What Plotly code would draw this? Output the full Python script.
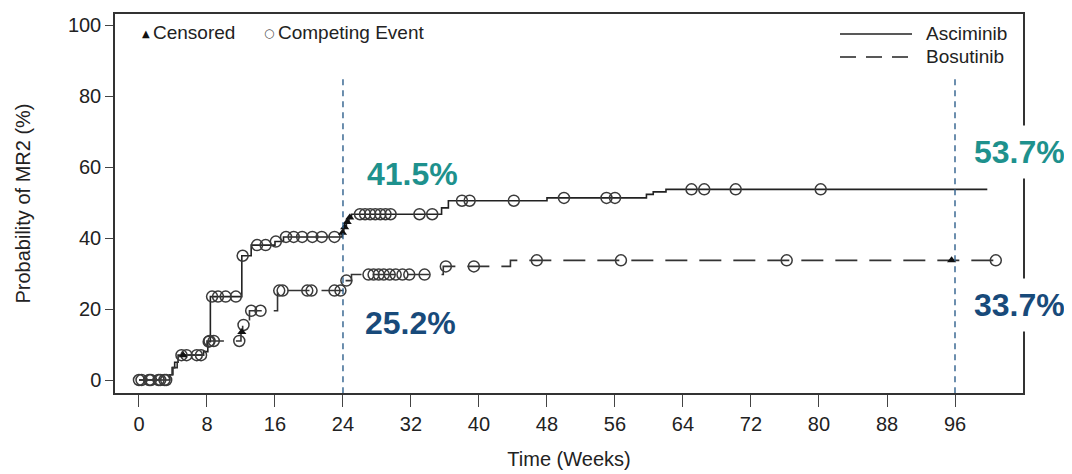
import numpy as np
import plotly.graph_objects as go

# ---------------- data ----------------
asc_t = [0, 3.6, 3.9, 4.2, 4.6, 7.6, 8.1, 8.4, 12.1, 13.2, 16.0, 17.0, 23.9, 24.1, 24.4, 24.7, 25.0, 35.6, 36.4, 48.0, 59.7, 60.5, 62.0, 99.8]
asc_p = [0, 1.5, 3.5, 5.0, 7.0, 8.0, 10.8, 23.5, 35.0, 38.0, 39.0, 40.3, 41.5, 43.0, 44.5, 45.8, 46.7, 48.5, 50.5, 51.3, 52.3, 53.0, 53.7, 53.7]
asc_ce_t = [0.0, 1.2, 2.3, 3.0, 5.0, 6.8, 7.3, 8.2, 8.6, 9.3, 10.2, 11.4, 12.2, 13.9, 14.9, 16.1, 17.3, 18.2,
            19.2, 20.4, 21.5, 23.0, 26.0, 26.6, 27.2, 27.8, 28.4, 29.0, 29.6, 33.0, 34.5, 38.0, 38.9, 44.1,
            50.0, 55.0, 56.0, 65.0, 66.5, 70.2, 80.2]
asc_cens_t = [5.2, 23.95, 24.2, 24.5, 24.8]

bos_t = [0, 3.6, 4.0, 4.5, 5.2, 8.0, 12.0, 12.2, 13.0, 16.3, 24.2, 25.0, 35.8, 43.7, 100.8]
bos_p = [0, 1.5, 3.5, 5.5, 7.0, 11.0, 13.5, 15.5, 19.5, 25.2, 28.0, 29.7, 32.0, 33.7, 33.7]
bos_ce_t = [0.3, 1.4, 2.5, 3.2, 5.6, 8.3, 8.8, 11.8, 12.3, 13.2, 14.3, 16.5, 16.9, 19.8, 20.3, 23.0, 23.7,
            24.4, 27.0, 27.6, 28.2, 28.8, 29.5, 30.2, 31.0, 31.8, 33.6, 36.1, 39.4, 46.8, 56.7, 76.2, 100.8]
bos_cens_t = [12.1, 95.6]

x_ticks = [0, 8, 16, 24, 32, 40, 48, 56, 64, 72, 80, 88, 96]
y_ticks = [0, 20, 40, 60, 80, 100]
landmarks = [24, 96]
labels_asc = ["41.5%", "53.7%"]
labels_bos = ["25.2%", "33.7%"]

# ---------------- helpers ----------------
def step_at(ts, ps, q):
    ts = np.asarray(ts); ps = np.asarray(ps)
    idx = np.searchsorted(ts, np.asarray(q), side="right") - 1
    idx = np.clip(idx, 0, len(ps) - 1)
    return ps[idx]

FONT = "Liberation Sans Narrow, Arial Narrow, Liberation Sans, Arial, sans-serif"
BOLD = "Liberation Sans, Arial, sans-serif"
TEAL = "#1e918d"
NAVY = "#184a7a"
VBLUE = "#2e5f8c"

# page body has an 8px default margin -> figure origin is at (8, 8)
OFF = 8
FIG_W, FIG_H = 1072 - OFF, 474 - OFF
ML, MR, MT, MB = 115 - OFF, 49, 14 - OFF, 81

fig = go.Figure()

# curves
fig.add_trace(go.Scatter(x=asc_t, y=asc_p, mode="lines", line=dict(color="#222", width=1.6, shape="hv"),
                         showlegend=False, hoverinfo="skip"))
fig.add_trace(go.Scatter(x=bos_t, y=bos_p, mode="lines",
                         line=dict(color="#333", width=1.6, shape="hv", dash="22px,12px"),
                         showlegend=False, hoverinfo="skip"))

# competing event markers
for ts, ps, ce in [(asc_t, asc_p, asc_ce_t), (bos_t, bos_p, bos_ce_t)]:
    fig.add_trace(go.Scatter(x=ce, y=step_at(ts, ps, ce), mode="markers",
                             marker=dict(symbol="circle-open", size=11, color="#3a3a3a", line=dict(width=1.5)),
                             showlegend=False, hoverinfo="skip"))
# censored markers
for ts, ps, cz in [(asc_t, asc_p, asc_cens_t), (bos_t, bos_p, bos_cens_t)]:
    fig.add_trace(go.Scatter(x=cz, y=step_at(ts, ps, cz), mode="markers",
                             marker=dict(symbol="triangle-up", size=8, color="#111"),
                             showlegend=False, hoverinfo="skip"))

# landmark vertical dashed lines
for lm in landmarks:
    fig.add_shape(type="line", xref="x", yref="y", x0=lm, x1=lm, y0=-3.7, y1=85.5,
                  line=dict(color=VBLUE, width=1.4, dash="6px,5px"), layer="above")

# percentage labels
fig.add_annotation(x=landmarks[0] + 8.2, y=58, xref="x", yref="y", text=f"<b>{labels_asc[0]}</b>",
                   showarrow=False, font=dict(family=BOLD, size=32, color=TEAL))
fig.add_annotation(x=landmarks[0] + 7.9, y=16, xref="x", yref="y", text=f"<b>{labels_bos[0]}</b>",
                   showarrow=False, font=dict(family=BOLD, size=32, color=NAVY))
fig.add_annotation(x=landmarks[1] + 7.6, y=64.2, xref="x", yref="y", text=f"<b>{labels_asc[1]}</b>",
                   showarrow=False, bgcolor="white", borderpad=8,
                   font=dict(family=BOLD, size=32, color=TEAL))
fig.add_annotation(x=landmarks[1] + 7.6, y=21.1, xref="x", yref="y", text=f"<b>{labels_bos[1]}</b>",
                   showarrow=False, bgcolor="white", borderpad=8,
                   font=dict(family=BOLD, size=32, color=NAVY))

fig.update_layout(
    template="none",
    width=FIG_W, height=FIG_H,
    margin=dict(l=ML, r=MR, t=MT, b=MB, autoexpand=False),
    paper_bgcolor="white", plot_bgcolor="white",
    font=dict(family=FONT, size=20, color="#222"),
    xaxis=dict(range=[-2.82, 104.0], tickmode="array", tickvals=x_ticks, ticktext=[str(v) for v in x_ticks],
               showline=True, linecolor="#333", linewidth=1.5, mirror=True, automargin=False,
               ticks="outside", ticklen=12, tickcolor="#444", tickwidth=1.3,
               showgrid=False, zeroline=False,
               title=dict(text="Time (Weeks)", font=dict(family=FONT, size=20), standoff=18),
               tickfont=dict(family=FONT, size=20)),
    yaxis=dict(range=[-3.66, 103.1], tickmode="array", tickvals=y_ticks, ticktext=[str(v) for v in y_ticks],
               showline=True, linecolor="#333", linewidth=1.5, mirror=True, automargin=False,
               ticks="outside", ticklen=8, tickcolor="#444", tickwidth=1.3,
               showgrid=False, zeroline=False,
               title=dict(text="Probability of MR2 (%)", font=dict(family=FONT, size=20), standoff=32),
               tickfont=dict(family=FONT, size=20)),
)

# legends, positioned in screen-pixel terms converted to paper coordinates
W_PLOT = FIG_W - ML - MR
H_PLOT = FIG_H - MT - MB
def px(xs):
    return (xs - OFF - ML) / W_PLOT
def py(ys):
    return (FIG_H - MB - (ys - OFF)) / H_PLOT

leg_font = dict(family=FONT, size=19, color="#222")
fig.add_annotation(x=px(140), y=py(33), xref="paper", yref="paper", text="▲", showarrow=False,
                   yanchor="middle", font=dict(family="DejaVu Sans", size=10, color="#111"))
fig.add_annotation(x=px(151), y=py(32), xref="paper", yref="paper", text="Censored", showarrow=False,
                   xanchor="left", yanchor="middle", font=leg_font)
fig.add_annotation(x=px(262), y=py(33), xref="paper", yref="paper", text="○", showarrow=False,
                   yanchor="middle", font=dict(family="DejaVu Sans", size=12, color="#555"))
fig.add_annotation(x=px(276), y=py(32), xref="paper", yref="paper", text="Competing Event", showarrow=False,
                   xanchor="left", yanchor="middle", font=leg_font)

fig.add_shape(type="line", xref="paper", yref="paper", x0=px(840), x1=px(912), y0=py(34), y1=py(34),
              line=dict(color="#222", width=1.5))
fig.add_shape(type="line", xref="paper", yref="paper", x0=px(840), x1=px(912), y0=py(57), y1=py(57),
              line=dict(color="#222", width=1.5, dash="16px,10px"))
fig.add_annotation(x=px(1009), y=py(33), xref="paper", yref="paper", text="Asciminib", showarrow=False,
                   xanchor="right", yanchor="middle", font=leg_font)
fig.add_annotation(x=px(1006), y=py(56), xref="paper", yref="paper", text="Bosutinib", showarrow=False,
                   xanchor="right", yanchor="middle", font=leg_font)

fig.write_html("out.html")
